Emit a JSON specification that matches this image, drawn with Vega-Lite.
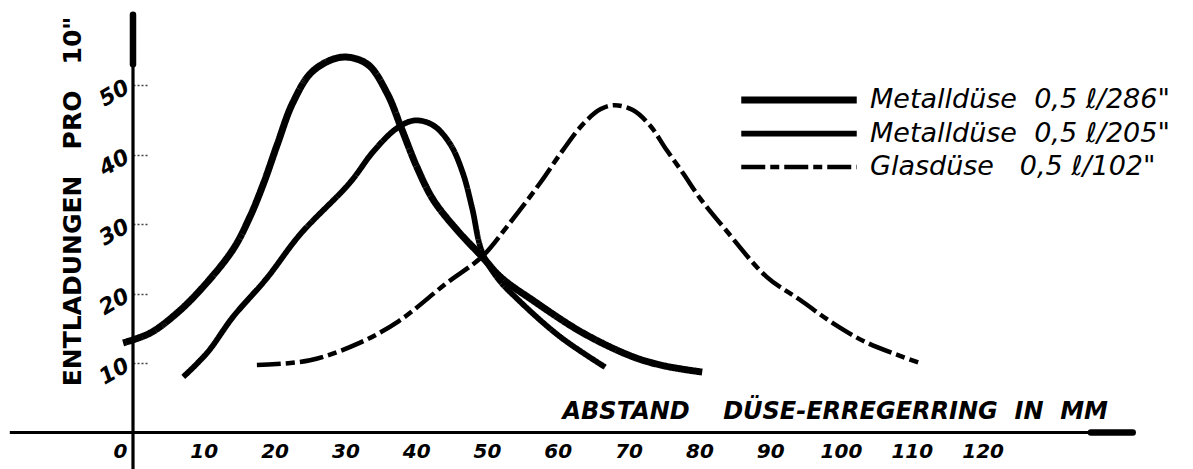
{
  "$schema": "https://vega.github.io/schema/vega-lite/v6.json",
  "width": 1193,
  "height": 469,
  "padding": 0,
  "autosize": {"type": "none"},
  "background": "white",
  "config": {
    "view": {"stroke": null},
    "font": "DejaVu Sans",
    "line": {"color": "black", "strokeCap": "butt", "strokeJoin": "round"}
  },
  "datasets": {
    "curves": [
      {"serie": "A", "x": -1.4, "y": 12.9},
      {"serie": "A", "x": 2.4, "y": 14.3},
      {"serie": "A", "x": 6, "y": 17},
      {"serie": "A", "x": 9.5, "y": 20.5},
      {"serie": "A", "x": 14.1, "y": 26.3},
      {"serie": "A", "x": 16.5, "y": 31},
      {"serie": "A", "x": 18.5, "y": 36},
      {"serie": "A", "x": 20.4, "y": 41.5},
      {"serie": "A", "x": 22.6, "y": 47.5},
      {"serie": "A", "x": 25.4, "y": 52},
      {"serie": "A", "x": 29.5, "y": 54},
      {"serie": "A", "x": 33.1, "y": 53},
      {"serie": "A", "x": 35.9, "y": 48.8},
      {"serie": "A", "x": 37.9, "y": 43.8},
      {"serie": "A", "x": 40.1, "y": 38.2},
      {"serie": "A", "x": 42.4, "y": 33.5},
      {"serie": "A", "x": 45.8, "y": 29.1},
      {"serie": "A", "x": 49.3, "y": 25.3},
      {"serie": "A", "x": 52, "y": 22.3},
      {"serie": "A", "x": 56.5, "y": 19},
      {"serie": "A", "x": 63.6, "y": 14.3},
      {"serie": "A", "x": 70.6, "y": 10.9},
      {"serie": "A", "x": 75, "y": 9.6},
      {"serie": "A", "x": 80.4, "y": 8.7},
      {"serie": "B", "x": 7.1, "y": 8},
      {"serie": "B", "x": 10.5, "y": 11.5},
      {"serie": "B", "x": 14.1, "y": 16.6},
      {"serie": "B", "x": 18.9, "y": 22.2},
      {"serie": "B", "x": 23.6, "y": 28.5},
      {"serie": "B", "x": 30.6, "y": 35.9},
      {"serie": "B", "x": 34, "y": 40.5},
      {"serie": "B", "x": 37.3, "y": 43.8},
      {"serie": "B", "x": 39.8, "y": 44.9},
      {"serie": "B", "x": 42.4, "y": 44.2},
      {"serie": "B", "x": 44.8, "y": 41.5},
      {"serie": "B", "x": 46.6, "y": 37.3},
      {"serie": "B", "x": 47.9, "y": 32.3},
      {"serie": "B", "x": 49.3, "y": 26},
      {"serie": "B", "x": 51.5, "y": 22.2},
      {"serie": "B", "x": 54.2, "y": 19.3},
      {"serie": "B", "x": 60.3, "y": 13.8},
      {"serie": "B", "x": 66.7, "y": 9.4},
      {"serie": "C", "x": 17.5, "y": 9.7},
      {"serie": "C", "x": 25, "y": 10.4},
      {"serie": "C", "x": 32, "y": 12.9},
      {"serie": "C", "x": 37.5, "y": 16},
      {"serie": "C", "x": 44.3, "y": 21.5},
      {"serie": "C", "x": 49.3, "y": 25.3},
      {"serie": "C", "x": 52.8, "y": 29.6},
      {"serie": "C", "x": 57.5, "y": 35.9},
      {"serie": "C", "x": 60.7, "y": 40.6},
      {"serie": "C", "x": 63.5, "y": 44.3},
      {"serie": "C", "x": 66, "y": 46.5},
      {"serie": "C", "x": 68, "y": 47.1},
      {"serie": "C", "x": 70.6, "y": 46.4},
      {"serie": "C", "x": 73, "y": 44.2},
      {"serie": "C", "x": 75.4, "y": 40.6},
      {"serie": "C", "x": 77.7, "y": 37.3},
      {"serie": "C", "x": 80.1, "y": 33.7},
      {"serie": "C", "x": 83.6, "y": 29.3},
      {"serie": "C", "x": 89.5, "y": 22.4},
      {"serie": "C", "x": 94.2, "y": 19.1},
      {"serie": "C", "x": 98.9, "y": 15.7},
      {"serie": "C", "x": 103.7, "y": 12.9},
      {"serie": "C", "x": 110.9, "y": 10.1}
    ],
    "axisthin": [
      {"part": "xaxis", "x": -17.4, "x2": 141.2, "y": 0, "y2": 0},
      {"part": "yaxis", "x": 0, "x2": 0, "y": -5.25, "y2": 60.1}
    ],
    "axisthick": [
      {"part": "arrow", "x": 135.3, "x2": 141.2, "y": 0, "y2": 0},
      {"part": "ytop", "x": 0, "x2": 0, "y": 53, "y2": 60.1}
    ]
  },
  "layer": [
    {
      "data": {"name": "axisthin"},
      "mark": {"type": "rule", "color": "black", "strokeWidth": 3.2},
      "encoding": {
        "x": {"field": "x", "type": "quantitative", "scale": {"domain": [-18.785, 149.72], "nice": false, "zero": false},
          "axis": {
            "orient": "bottom", "offset": -36.5, "domain": false, "ticks": false,
            "values": [0, 10, 20, 30, 40, 50, 60, 70, 80, 90, 100, 110, 120],
            "labelFont": "DejaVu Sans", "labelFontWeight": "bold", "labelFontStyle": "italic",
            "labelFontSize": 20, "labelColor": "black", "labelPadding": 9, "labelFlush": false,
            "labelAlign": {"condition": {"test": "datum.value === 0", "value": "right"}, "value": "center"},
            "labelOffset": {"condition": {"test": "datum.value === 0", "value": -6}, "value": 0},
            "grid": false,
            "title": "ABSTAND\u00a0\u00a0\u00a0 DÜSE-ERREGERRING\u00a0 IN\u00a0 MM",
            "titleFont": "DejaVu Sans", "titleFontWeight": "bold", "titleFontStyle": "italic",
            "titleFontSize": 24, "titleColor": "black",
            "titleX": 562, "titleY": -21, "titleAlign": "left", "titleBaseline": "middle"
          }
        },
        "x2": {"field": "x2"},
        "y": {"field": "y", "type": "quantitative", "scale": {"domain": [-5.25, 62.23], "nice": false, "zero": false},
          "axis": {
            "orient": "left", "offset": -133, "domain": false, "grid": false,
            "values": [10, 20, 30, 40, 50],
            "ticks": true, "tickSize": -14, "tickDash": [2, 2], "tickColor": "#444", "tickWidth": 1.5,
            "labelFont": "DejaVu Sans", "labelFontWeight": "bold", "labelFontStyle": "italic",
            "labelFontSize": 22, "labelColor": "black", "labelPadding": 20, "labelAngle": -30,
            "labelAlign": "right", "labelBaseline": "middle",
            "title": "ENTLADUNGEN\u00a0\u00a0 PRO\u00a0\u00a0 10\"",
            "titleFont": "DejaVu Sans", "titleFontWeight": "bold", "titleFontSize": 25, "titleColor": "black",
            "titleAngle": -90, "titleX": -61, "titleY": 201, "titleAlign": "center", "titleBaseline": "middle"
          }
        },
        "y2": {"field": "y2"}
      }
    },
    {
      "data": {"name": "axisthick"},
      "mark": {"type": "rule", "color": "black", "strokeWidth": 6.5, "strokeCap": "round"},
      "encoding": {
        "x": {"field": "x", "type": "quantitative"},
        "x2": {"field": "x2"},
        "y": {"field": "y", "type": "quantitative"},
        "y2": {"field": "y2"}
      }
    },
    {
      "data": {"name": "curves"},
      "mark": {"type": "line", "interpolate": "catmull-rom", "color": "black"},
      "encoding": {
        "x": {"field": "x", "type": "quantitative"},
        "y": {"field": "y", "type": "quantitative"},
        "strokeDash": {
          "field": "serie", "type": "nominal",
          "scale": {"domain": ["A", "B", "C"], "range": [[1, 0], [1, 0], [24, 5, 9, 5]]},
          "legend": {
            "title": null, "orient": "none", "legendX": 778, "legendY": 79,
            "symbolType": "M-3.3,0H3.3", "symbolSize": 1225, "symbolStrokeColor": "black", "symbolFillColor": "transparent",
            "labelExpr": "datum.value === 'A' ? 'Metalldüse\u00a0 0,5 ℓ/286\"' : datum.value === 'B' ? 'Metalldüse\u00a0 0,5 ℓ/205\"' : 'Glasdüse\u00a0\u00a0 0,5 ℓ/102\"'",
            "labelFont": "DejaVu Sans", "labelFontStyle": "italic", "labelFontSize": 27,
            "labelColor": "black", "labelOffset": 50, "labelLimit": 500, "rowPadding": 0
          }
        },
        "strokeWidth": {
          "field": "serie", "type": "nominal",
          "scale": {"domain": ["A", "B", "C"], "range": [7, 4.5, 7]},
          "legend": {
            "title": null, "orient": "none", "legendX": 778, "legendY": 79,
            "symbolType": "M-3.3,0H3.3", "symbolSize": 1225, "symbolStrokeColor": "black", "symbolFillColor": "transparent",
            "labelExpr": "datum.value === 'A' ? 'Metalldüse\u00a0 0,5 ℓ/286\"' : datum.value === 'B' ? 'Metalldüse\u00a0 0,5 ℓ/205\"' : 'Glasdüse\u00a0\u00a0 0,5 ℓ/102\"'",
            "labelFont": "DejaVu Sans", "labelFontStyle": "italic", "labelFontSize": 27,
            "labelColor": "black", "labelOffset": 50, "labelLimit": 500, "rowPadding": 0
          }
        }
      }
    }
  ]
}
